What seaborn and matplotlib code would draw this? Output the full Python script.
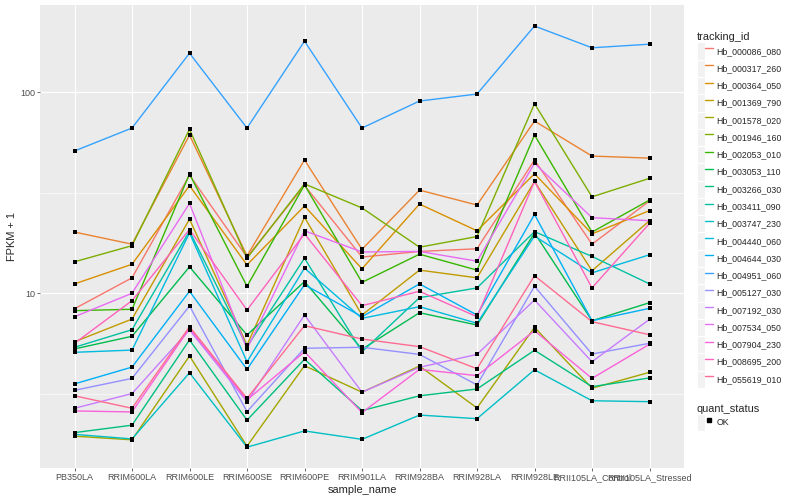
import numpy as np
import pandas as pd
import seaborn as sns
import matplotlib.pyplot as plt
from matplotlib.lines import Line2D
from matplotlib.patches import Patch
from matplotlib.legend_handler import HandlerTuple
from matplotlib.ticker import FixedLocator, NullFormatter

# Samples (x axis)
samples = ["PB350LA", "RRIM600LA", "RRIM600LE", "RRIM600SE", "RRIM600PE", "RRIM901LA",
           "RRIM928BA", "RRIM928LA", "RRIM928LE", "RRII105LA_Control", "RRII105LA_Stressed"]

# FPKM + 1 per gene
hb_000086_080 = [8.35, 11.9, 38.6, 15.1, 34.3, 15.1, 16.1, 16.6, 45.9, 17.5, 28.7]
hb_000317_260 = [20.1, 17.5, 61.1, 15.3, 45.9, 16.5, 32.5, 27.4, 71.7, 48.0, 46.9]
hb_000364_050 = [11.1, 13.9, 34.2, 13.8, 27.1, 13.2, 27.7, 20.4, 39.2, 19.7, 25.7]
hb_001369_790 = [5.72, 7.42, 23.3, 5.51, 23.8, 7.77, 13.0, 11.9, 35.9, 12.9, 22.9]
hb_001578_020 = [1.94, 1.86, 4.86, 1.73, 4.35, 3.21, 4.33, 2.68, 6.75, 3.36, 4.03]
hb_001946_160 = [14.3, 17.2, 65.2, 14.9, 34.9, 26.5, 16.9, 19.1, 87.5, 30.1, 37.2]
hb_002053_010 = [8.17, 8.30, 39.1, 10.8, 34.5, 11.3, 15.6, 13.0, 61.1, 20.1, 29.0]
hb_003053_110 = [5.27, 6.09, 13.5, 6.18, 11.4, 5.25, 7.98, 6.93, 19.9, 7.28, 8.95]
hb_003266_030 = [2.02, 2.20, 5.84, 2.33, 4.68, 2.60, 3.08, 3.33, 5.19, 3.42, 3.78]
hb_003411_090 = [5.37, 6.57, 20.3, 5.41, 14.9, 5.10, 9.48, 10.6, 20.2, 15.2, 11.1]
hb_003747_230 = [1.98, 1.88, 4.01, 1.71, 2.06, 1.87, 2.47, 2.37, 4.15, 2.91, 2.88]
hb_004440_060 = [5.07, 5.20, 19.9, 4.55, 13.3, 7.48, 8.55, 7.07, 19.2, 12.6, 15.5]
hb_004644_030 = [3.53, 4.28, 10.2, 4.17, 11.0, 7.62, 11.1, 7.77, 24.6, 7.28, 8.39]
hb_004951_060 = [50.9, 66.2, 156, 66.2, 179, 66.2, 90.2, 97.7, 213, 166, 173]
hb_005127_030 = [3.28, 3.76, 8.62, 2.57, 5.31, 5.37, 4.95, 3.49, 10.8, 4.97, 5.62]
hb_007192_030 = [2.67, 3.16, 6.55, 2.88, 7.77, 3.21, 4.27, 4.95, 9.23, 4.55, 7.40]
hb_007534_050 = [7.62, 9.97, 27.9, 5.27, 20.4, 16.0, 16.1, 14.4, 44.2, 23.7, 22.9]
hb_007904_230 = [2.59, 2.56, 6.67, 2.94, 5.10, 2.54, 4.17, 3.88, 6.49, 3.76, 5.56]
hb_008695_200 = [5.62, 9.16, 20.7, 8.23, 19.7, 8.65, 10.2, 7.62, 35.9, 10.6, 22.2]
hb_055619_010 = [3.08, 2.67, 6.80, 2.99, 6.88, 5.90, 5.41, 4.20, 12.2, 7.20, 6.20]

genes = ["Hb_000086_080", "Hb_000317_260", "Hb_000364_050", "Hb_001369_790", "Hb_001578_020",
         "Hb_001946_160", "Hb_002053_010", "Hb_003053_110", "Hb_003266_030", "Hb_003411_090",
         "Hb_003747_230", "Hb_004440_060", "Hb_004644_030", "Hb_004951_060", "Hb_005127_030",
         "Hb_007192_030", "Hb_007534_050", "Hb_007904_230", "Hb_008695_200", "Hb_055619_010"]
series = [hb_000086_080, hb_000317_260, hb_000364_050, hb_001369_790, hb_001578_020,
          hb_001946_160, hb_002053_010, hb_003053_110, hb_003266_030, hb_003411_090,
          hb_003747_230, hb_004440_060, hb_004644_030, hb_004951_060, hb_005127_030,
          hb_007192_030, hb_007534_050, hb_007904_230, hb_008695_200, hb_055619_010]

# ggplot default hue palette for 20 levels
colors = ["#F8766D", "#EA8331", "#D89000", "#C09B00", "#A3A500", "#7CAE00", "#39B600",
          "#00BB4E", "#00BF7D", "#00C1A3", "#00BFC4", "#00BAE0", "#00B0F6", "#35A2FF",
          "#9590FF", "#C77CFF", "#E76BF3", "#FA62DB", "#FF62BC", "#FF6C91"]

rows = []
for gene, vals in zip(genes, series):
    for s, v in zip(samples, vals):
        rows.append((gene, s, v, "OK"))
df = pd.DataFrame(rows, columns=["tracking_id", "sample_name", "fpkm", "quant_status"])

sns.set_theme(style="darkgrid", rc={
    "axes.facecolor": "#EBEBEB",
    "grid.color": "white",
    "figure.facecolor": "white",
})
plt.rcParams["font.family"] = ["Liberation Sans", "DejaVu Sans"]

fig = plt.figure(figsize=(8, 5), dpi=100)
ax = fig.add_axes([0.05, 0.064, 0.805, 0.926])

sns.lineplot(data=df, x="sample_name", y="fpkm", hue="tracking_id", hue_order=genes,
             palette=colors, estimator=None, sort=False, lw=1.0, legend=False, ax=ax, zorder=2)
sns.scatterplot(data=df, x="sample_name", y="fpkm", color="black", marker="s", s=7,
                linewidth=0, legend=False, ax=ax, zorder=3)

ax.set_yscale("log")
ax.set_ylim(1.347, 271)
ax.set_xlim(-0.6, len(samples) - 0.4)
ax.yaxis.set_major_locator(FixedLocator([10, 100]))
ax.set_yticklabels(["10", "100"])
ax.yaxis.set_minor_locator(FixedLocator([10 ** 0.5, 10 ** 1.5]))
ax.yaxis.set_minor_formatter(NullFormatter())

ax.grid(which="major", color="white", lw=0.8)
ax.grid(which="minor", axis="y", color="white", lw=0.4)
ax.grid(which="minor", axis="x", visible=False)
for sp in ax.spines.values():
    sp.set_visible(False)
ax.tick_params(which="major", length=2, width=0.5, color="#333333",
               labelcolor="#4D4D4D", labelsize=6.5, pad=1.5)
ax.tick_params(which="minor", length=0)
ax.tick_params(axis="x", bottom=True)
ax.tick_params(axis="y", left=True)

ax.set_xlabel("sample_name", fontsize=7.9, labelpad=2)
ax.set_ylabel("FPKM + 1", fontsize=7.9, labelpad=2)

# legends in ggplot style
key_bg = dict(facecolor="#F2F2F2", edgecolor="white", linewidth=0.8)
legend_kw = dict(title_fontsize=7.9, fontsize=6.3, frameon=False,
                 handler_map={tuple: HandlerTuple(ndivide=None, pad=0)},
                 handlelength=1.85, handleheight=2.66, labelspacing=0.0,
                 handletextpad=0.4, borderpad=0, borderaxespad=0)

handles = [(Patch(**key_bg), Line2D([], [], color=c, lw=1.0)) for c in colors]
leg1 = fig.legend(handles, genes, loc="upper left", bbox_to_anchor=(0.871, 0.935),
                  title="tracking_id", **legend_kw)
leg1._legend_box.align = "left"

ok_handle = (Patch(**key_bg), Line2D([], [], color="black", marker="s", ms=2.4, lw=0))
leg2 = fig.legend([ok_handle], ["OK"], loc="upper left", bbox_to_anchor=(0.871, 0.192),
                  title="quant_status", **legend_kw)
leg2._legend_box.align = "left"

fig.savefig("out.png", dpi=100)
